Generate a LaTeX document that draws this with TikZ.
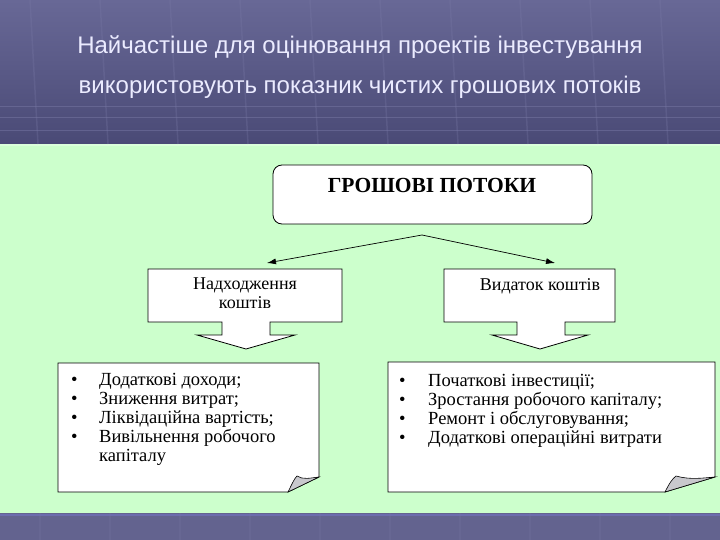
\documentclass[tikz,border=0pt]{standalone}
\usepackage{fontspec}
\setmainfont{Liberation Serif}
\newfontfamily\headfont{Liberation Sans}
\usetikzlibrary{arrows.meta}
\definecolor{bandtop}{RGB}{104,104,150}
\definecolor{bandbot}{RGB}{74,74,118}
\definecolor{bandline}{RGB}{120,120,165}
\definecolor{paper}{RGB}{204,255,204}
\definecolor{curl}{RGB}{200,200,205}
\tikzset{
  boxtext/.style={font=\fontsize{18}{19}\selectfont, align=center, inner sep=0pt},
  listtext/.style={font=\fontsize{18.5}{19}\selectfont, anchor=north west, inner sep=0pt, align=left},
  shapeline/.style={draw=black, fill=white, line width=0.8pt}
}
\begin{document}
\begin{tikzpicture}[x=1pt, y=-1pt]
	\useasboundingbox (0,0) rectangle (720,540);
	% background bands
	\shade[top color=bandtop, bottom color=bandbot] (0,0) rectangle (720,144);
	\fill[paper] (0,144) rectangle (720,513);
	\draw[paper!70!white, line width=1.5pt] (0,145) -- (720,145);
	\fill[bandtop!95!black] (0,513) rectangle (720,540);
	\draw[bandline!90!blue, line width=2pt] (0,515) -- (720,515);
	\foreach \y in {107,118,131} \draw[bandline, opacity=0.5, line width=1pt] (0,\y) -- (720,\y);
	\foreach \x in {30,100,170,240,310,380,450,520,590,660} {
		\draw[bandline, opacity=0.3, line width=1.5pt] (\x,0) -- (\x+8,144);
		\draw[bandline, opacity=0.2, line width=1.5pt] (\x+10,513) -- (\x+10,540);
	}
	\node[font=\headfont\fontsize{24}{26}\selectfont, text=white!92!blue] (head1) at (360,47) {Найчастіше для оцінювання проектів інвестування};
	\node[font=\headfont\fontsize{24}{26}\selectfont, text=white!92!blue] (head2) at (360,87) {використовують показник чистих грошових потоків};

	% main box
	\draw[shapeline, rounded corners=9pt] (273,165) rectangle (592,224);
	\node[font=\bfseries\fontsize{21.5}{23}\selectfont, inner sep=0pt] (flows) at (432,185) {ГРОШОВІ ПОТОКИ};
	\coordinate (apex) at (422,235);
	\coordinate (inTip) at (267,263);
	\coordinate (outTip) at (555,263);
	\draw[-{Latex[length=9pt,width=6pt]}, line width=0.7pt] (apex) -- (inTip);
	\draw[-{Latex[length=9pt,width=6pt]}, line width=0.7pt] (apex) -- (outTip);

	% callout boxes with down arrows
	\draw[shapeline] (148,269) -- (342,269) -- (342,322) -- (270,322) -- (270,335) -- (295,335) -- (246,349)
		-- (197,335) -- (222,335) -- (222,322) -- (148,322) -- cycle;
	\node[boxtext] (inflow) at (245,293) {Надходження\\коштів};
	\draw[shapeline] (444,269) -- (615,269) -- (615,322) -- (565,322) -- (565,335) -- (588,335) -- (540,349)
		-- (492,335) -- (517,335) -- (517,322) -- (444,322) -- cycle;
	\node[boxtext] (outflow) at (540,286) {Видаток коштів};

	% notes with folded corner
	\draw[shapeline] (58,363) -- (319,363) -- (319,477) -- (288,492) -- (58,492) -- cycle;
	\draw[fill=curl, line width=0.6pt] (288,492) .. controls (292,484) and (294,479) .. (297,476)
		.. controls (303,480) and (310,478) .. (319,477) -- cycle;
	\draw[shapeline] (388,362) -- (715,362) -- (715,477) -- (665,492) -- (388,492) -- cycle;
	\draw[fill=curl, line width=0.6pt] (665,492) .. controls (669,484) and (672,479) .. (676,476)
		.. controls (690,480) and (703,478) .. (715,477) -- cycle;

	\node[listtext] (inlist) at (71,372) {%
		\begin{tabular}{@{}p{28pt}@{}l@{}}
		\textbullet & Додаткові доходи;\\
		\textbullet & Зниження витрат;\\
		\textbullet & Ліквідаційна вартість;\\
		\textbullet & Вивільнення робочого\\
		 & капіталу
		\end{tabular}};
	\node[listtext] (outlist) at (399,373) {%
		\begin{tabular}{@{}p{29pt}@{}l@{}}
		\textbullet & Початкові інвестиції;\\
		\textbullet & Зростання робочого капіталу;\\
		\textbullet & Ремонт і обслуговування;\\
		\textbullet & Додаткові операційні витрати
		\end{tabular}};
\end{tikzpicture}
\end{document}
